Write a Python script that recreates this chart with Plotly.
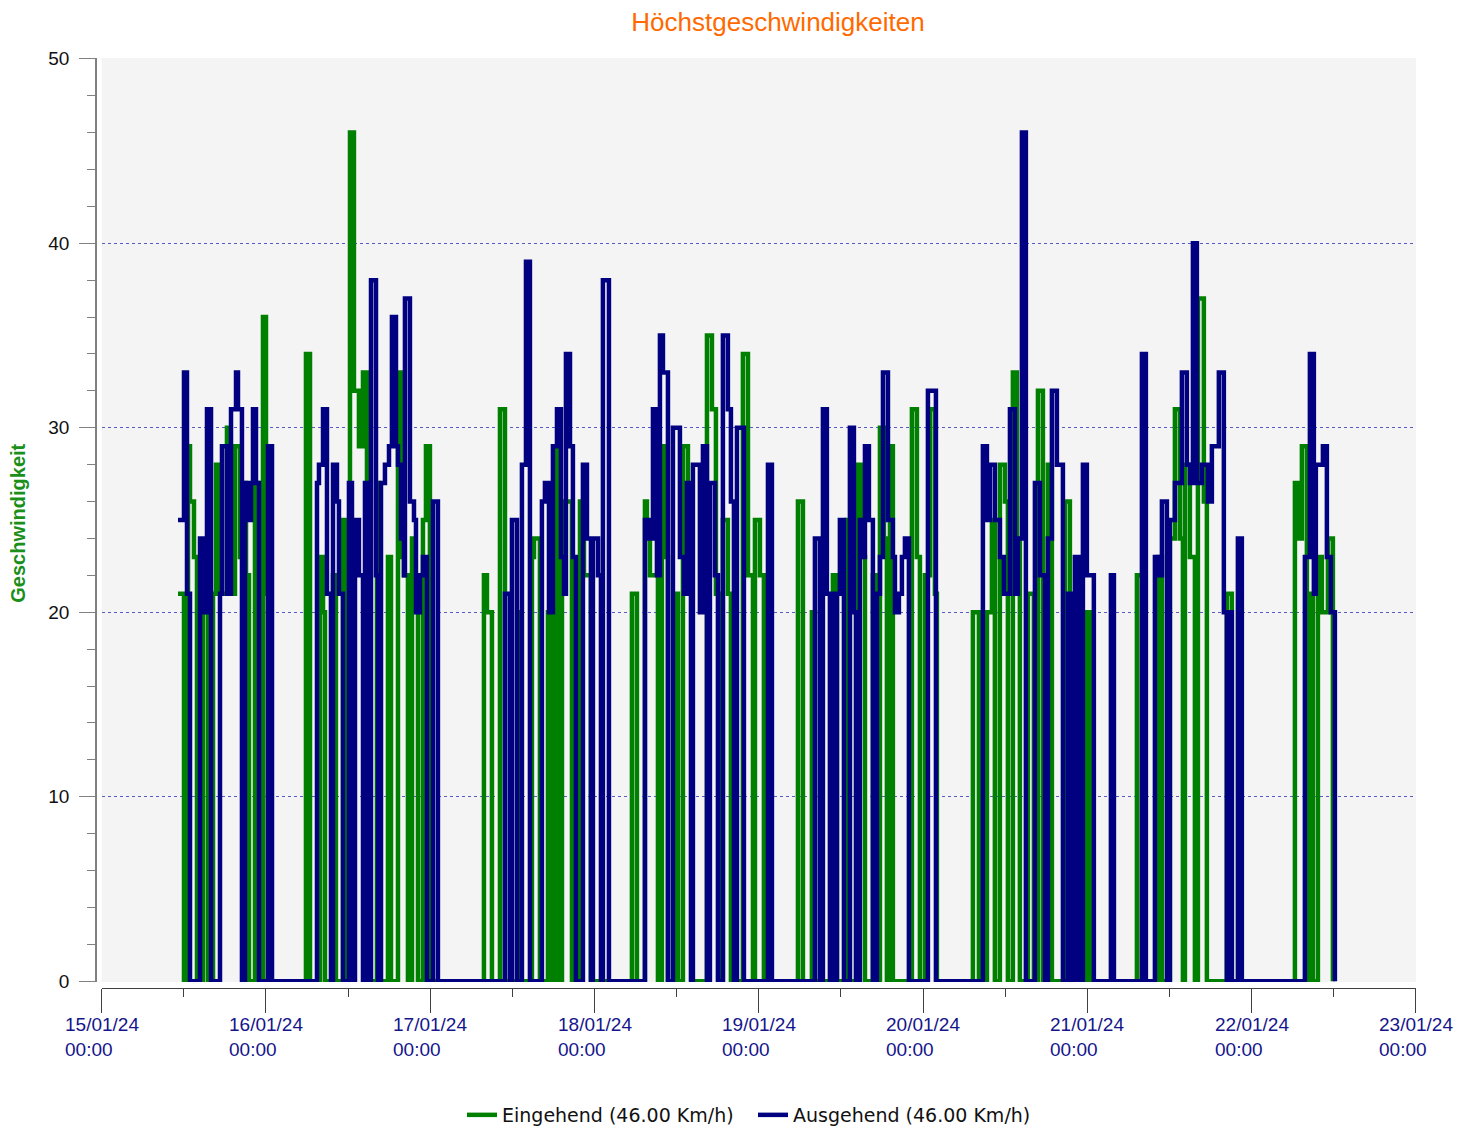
import pandas as pd
import plotly.graph_objects as go

START = pd.Timestamp("2024-01-15 00:00")

# Eingehend (incoming) – hours since 15/01/24 00:00 and max speed (km/h), step data
eingehend_hours = [
    11.15, 12.02, 12.61, 12.90, 13.48, 13.92, 14.80, 15.09, 15.53, 16.26, 16.70, 17.28, 18.30,
    18.59, 19.03, 19.47, 20.20, 20.64, 21.08, 21.52, 22.39, 22.83, 23.12, 23.56, 24.00, 24.29,
    29.84, 30.43, 31.89, 32.33, 32.62, 33.79, 34.22, 35.25, 35.54, 36.27, 36.85, 37.58, 38.17,
    38.75, 39.19, 40.21, 40.51, 41.82, 42.26, 43.28, 43.72, 44.16, 44.74, 45.33, 45.76, 46.20,
    46.93, 47.37, 47.95,
    55.84, 56.28, 57.01, 58.18, 58.91, 60.81, 61.25, 62.85, 63.15, 64.02, 65.19, 65.63, 66.21,
    66.51, 66.80, 67.24, 68.70, 69.87, 70.45, 71.47,
    77.46, 78.19, 79.36, 79.65, 80.09, 81.26, 81.84, 82.28, 82.72, 83.89, 84.18, 84.91, 85.64,
    86.22, 88.42, 89.15, 89.73, 90.32, 90.75, 91.48, 91.92, 93.67, 94.41, 95.14, 95.43, 96.16,
    96.74,
    101.71, 102.44, 103.75, 104.19, 106.82, 107.41, 108.87, 109.30, 110.47, 111.06, 111.50,
    112.66, 113.10, 113.69, 114.27, 114.71, 115.15, 115.58, 118.36, 119.09, 119.53, 120.26,
    120.99, 121.72, 122.01,
    127.27, 128.15, 129.32, 130.05, 130.48, 131.21, 131.95, 132.38, 133.11, 133.70, 134.13,
    135.30, 136.18, 136.77, 137.50, 138.23, 138.81, 140.71, 141.44, 143.92, 144.51,
    151.23, 151.96, 154.29, 154.88, 156.05, 156.78, 157.51, 157.95, 158.24, 158.97, 159.70,
    160.14, 161.01, 161.45, 164.37, 165.10,
    174.31, 174.75, 175.33, 176.06, 176.50, 176.93, 177.67, 178.25, 179.13, 179.86,
]
eingehend_kmh = [
    21, 0, 29, 26, 23, 0, 22, 20, 0, 21, 28, 21, 30, 29, 21, 29, 23, 27, 22, 0, 27, 21, 0, 36, 21, 0,
    34, 0, 23, 20, 0, 22, 0, 25, 0, 46, 32, 29, 33, 22, 0, 27, 0, 23, 0, 33, 23, 22, 0, 24, 21, 0,
    25, 29, 0,
    22, 20, 0, 31, 0, 20, 0, 23, 24, 0, 20, 0, 21, 29, 0, 26, 0, 26, 22, 0,
    21, 0, 26, 24, 22, 0, 29, 23, 0, 21, 0, 29, 22, 0, 35, 31, 21, 0, 25, 21, 0, 34, 22, 0, 25, 22, 0,
    26, 0, 20, 0, 22, 0, 25, 0, 28, 23, 0, 22, 0, 30, 24, 0, 29, 0, 31, 23, 0, 22, 31, 21, 0,
    20, 0, 20, 25, 0, 28, 26, 0, 33, 24, 0, 21, 0, 32, 0, 28, 0, 26, 0, 20, 0,
    22, 0, 23, 0, 24, 31, 24, 0, 28, 23, 0, 37, 26, 0, 21, 0,
    27, 24, 29, 0, 21, 0, 23, 20, 24, 0,
]

# Ausgehend (outgoing)
ausgehend_hours = [
    11.15, 12.02, 12.46, 12.90, 14.36, 14.80, 15.38, 15.97, 17.28, 17.57, 18.30, 18.89, 19.62,
    19.91, 20.49, 20.93, 21.37, 21.81, 22.10, 22.54, 22.98, 24.29, 24.88,
    31.45, 31.74, 32.33, 32.91, 33.49, 33.79, 34.37, 34.66, 35.25, 36.12, 36.56, 37.00, 37.58,
    38.17, 38.46, 39.04, 39.34, 40.07, 40.36, 40.80, 41.38, 41.97, 42.40, 42.99, 43.28, 43.72,
    44.16, 44.30, 45.03, 45.62, 45.91, 46.49, 46.93, 47.52, 48.39, 49.12,
    58.91, 59.64, 59.93, 60.66, 61.39, 61.98, 62.56, 64.31, 64.75, 65.34, 65.92, 66.51, 67.09,
    67.53, 67.82, 68.41, 68.84, 69.28, 70.30, 70.89, 71.47, 71.76, 72.50, 72.93, 73.22, 74.10,
    79.36, 79.94, 80.53, 81.11, 81.55, 81.99, 82.72, 83.45, 84.47, 85.06, 85.49, 86.08, 86.37,
    87.39, 87.83, 88.42, 88.85, 89.58, 90.02, 90.75, 91.48, 91.92, 92.36, 92.80, 93.82, 97.33,
    97.91,
    104.19, 104.92, 105.36, 105.94, 106.38, 106.68, 107.11, 107.41, 107.84, 108.43, 109.30,
    109.89, 110.18, 110.76, 111.20, 111.50, 112.08, 112.66, 113.25, 113.69, 114.13, 114.86,
    115.58, 115.88, 116.46, 116.90, 117.34, 117.92, 120.70, 121.87,
    128.73, 129.32, 129.75, 130.48, 131.21, 131.80, 132.68, 133.41, 133.84, 134.43, 135.01,
    136.33, 137.06, 137.79, 138.23, 138.81, 139.54, 140.42, 141.15, 141.73, 142.17, 142.76,
    143.34, 143.92, 144.94,
    147.43, 147.87, 151.96, 152.54, 153.86, 154.44, 154.88, 155.61, 156.05, 156.78, 157.80,
    158.53, 158.97, 159.41, 159.99, 160.72, 161.60, 162.18, 163.20, 163.93, 164.37, 164.66,
    165.10, 165.98, 166.56,
    175.77, 176.50, 177.08, 177.37, 178.40, 178.98, 179.56, 180.15,
]
ausgehend_kmh = [
    25, 33, 21, 0, 24, 20, 31, 0, 21, 29, 21, 31, 33, 31, 0, 27, 25, 27, 31, 27, 0, 29, 0,
    27, 28, 31, 21, 0, 28, 26, 21, 0, 27, 0, 25, 22, 0, 27, 0, 38, 22, 0, 27, 28, 29, 36, 29, 28,
    24, 22, 37, 26, 25, 20, 22, 23, 0, 26, 0,
    21, 0, 25, 0, 28, 39, 0, 26, 27, 20, 29, 31, 23, 21, 34, 29, 23, 0, 28, 24, 0, 24, 22, 0, 38, 0,
    25, 24, 31, 22, 35, 33, 0, 30, 23, 21, 27, 0, 28, 20, 29, 0, 27, 22, 0, 35, 31, 26, 0, 30, 0,
    28, 0,
    24, 0, 31, 21, 0, 21, 0, 21, 25, 0, 30, 20, 0, 25, 23, 29, 25, 0, 21, 23, 33, 25, 23, 20, 21,
    23, 24, 0, 32, 0,
    29, 25, 28, 25, 23, 21, 31, 21, 24, 46, 0, 27, 22, 0, 24, 32, 28, 0, 21, 0, 23, 0, 28, 22, 0,
    22, 0, 34, 0, 23, 22, 26, 0, 25, 27, 33, 28, 27, 40, 27, 28, 26, 29, 33, 20, 0, 20, 0, 24, 0,
    23, 34, 21, 28, 29, 23, 20, 0,
]

x_tick_days = pd.date_range("2024-01-15", "2024-01-23", freq="D")
y_ticks = [0, 10, 20, 30, 40, 50]

n_in = min(len(eingehend_hours), len(eingehend_kmh))
n_out = min(len(ausgehend_hours), len(ausgehend_kmh))
t_in = START + pd.to_timedelta(eingehend_hours[:n_in], unit="h")
t_out = START + pd.to_timedelta(ausgehend_hours[:n_out], unit="h")

GREEN = "#008000"
NAVY = "#000080"
W, H = 1463, 1125  # page body adds an 8px offset

fig = go.Figure()
fig.add_trace(go.Scatter(
    x=t_in, y=eingehend_kmh[:n_in], mode="lines",
    line=dict(color=GREEN, width=4.5, shape="hv"),
    name=f"Eingehend ({max(eingehend_kmh):.2f} Km/h)",
))
fig.add_trace(go.Scatter(
    x=t_out, y=ausgehend_kmh[:n_out], mode="lines",
    line=dict(color=NAVY, width=4.5, shape="hv"),
    name=f"Ausgehend ({max(ausgehend_kmh):.2f} Km/h)",
))

annotations = []
for d in x_tick_days:
    annotations.append(dict(
        x=d, xref="x", y=-0.047, yref="paper", showarrow=False,
        text=f"{d:%d/%m/%y}<br>{d:%H:%M}", align="left",
        xanchor="center", yanchor="middle",
        font=dict(family="Liberation Sans, Arial, sans-serif", size=19, color="#15158c"),
    ))
annotations.append(dict(
    x=-0.0543, xref="paper", y=0.503, yref="paper", showarrow=False,
    text="<b>Geschwindigkeit</b>", textangle=-90, xanchor="center", yanchor="middle",
    font=dict(family="Liberation Sans, Arial, sans-serif", size=20, color="#1a8f1a"),
))

fig.update_layout(
    width=W, height=H,
    margin=dict(l=82, r=55, t=50, b=140),
    paper_bgcolor="white", plot_bgcolor="#f4f4f4",
    title=dict(text="Höchstgeschwindigkeiten", x=770 / W, xref="container", xanchor="center",
               y=1 - 14 / H, yref="container", yanchor="middle",
               font=dict(family="Liberation Sans, Arial, sans-serif", size=26, color="#ff6a00")),
    xaxis=dict(
        type="date", range=["2024-01-15", "2024-01-23"], domain=[0.00882, 1],
        anchor="free", position=0.00535,
        showgrid=False, zeroline=False, showline=True, linecolor="#404040", linewidth=1,
        ticks="outside", ticklen=24, tickwidth=1, tickcolor="#404040",
        tick0="2024-01-15", dtick=86400000, showticklabels=False,
        minor=dict(tick0="2024-01-15", dtick=43200000, ticks="outside", ticklen=8,
                   tickwidth=1, tickcolor="#404040", showgrid=False),
    ),
    yaxis=dict(
        range=[-0.04, 50.04], domain=[0.01176, 1], anchor="free", position=0.00452,
        tickmode="array", tickvals=y_ticks, ticktext=[str(v) for v in y_ticks],
        showgrid=True, gridcolor="#5a5ac8", griddash="dot", gridwidth=1,
        zeroline=False, showline=True, linecolor="#808080", linewidth=1.5,
        ticks="outside", ticklen=16, tickwidth=1, tickcolor="#808080",
        minor=dict(dtick=2, ticks="outside", ticklen=8, tickwidth=1, tickcolor="#808080",
                   showgrid=False),
        tickfont=dict(family="Liberation Sans, Arial, sans-serif", size=19, color="#111111"),
        ticklabelstandoff=6,
    ),
    showlegend=True,
    legend=dict(orientation="h", x=0.5, xanchor="center",
                yref="container", y=(H - 1107) / H, yanchor="middle",
                font=dict(family="DejaVu Sans, sans-serif", size=19, color="#111111"),
                bgcolor="rgba(0,0,0,0)", itemwidth=30,
                entrywidthmode="pixels", entrywidth=246),
    annotations=annotations,
)

fig.write_html("out.html")
